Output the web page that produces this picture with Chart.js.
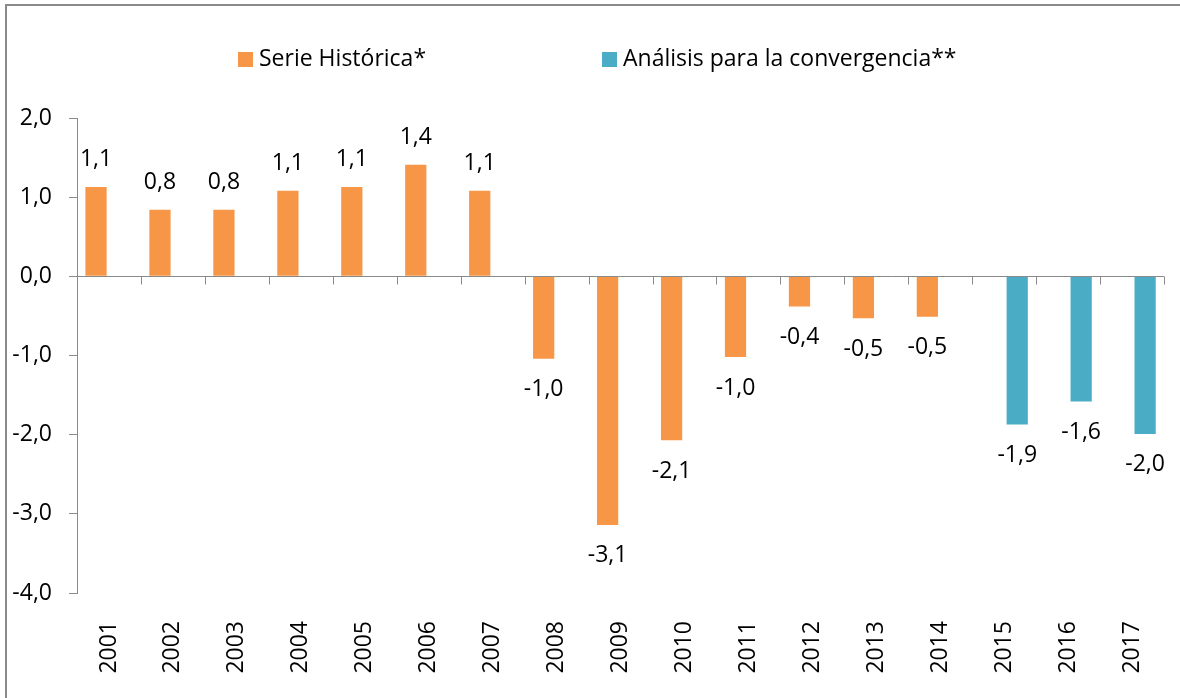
<!DOCTYPE html>
<html><head><meta charset="utf-8">
<script src="https://cdn.jsdelivr.net/npm/chart.js@4.4.0/dist/chart.umd.min.js"></script>
<style>html,body{margin:0;padding:0;background:#fff;overflow:hidden}#wrap{width:1180px;height:698px;position:relative}</style>
</head><body><div id="wrap"><canvas id="c" width="1180" height="698"></canvas></div>
<script>
const years = ['2001','2002','2003','2004','2005','2006','2007','2008','2009','2010','2011','2012','2013','2014','2015','2016','2017'];
const serieHistorica = [1.13,0.84,0.84,1.08,1.13,1.41,1.08,-1.04,-3.14,-2.07,-1.02,-0.38,-0.53,-0.51,null,null,null];
const convergencia = [null,null,null,null,null,null,null,null,null,null,null,null,null,null,-1.87,-1.58,-1.99];
const seriesNames = ['Serie Histórica*','Análisis para la convergencia**'];
const yMin = -4, yMax = 2, yStep = 1;

const FONT = "'Open Sans', sans-serif";
const FS = 23;
const fmt = v => v.toFixed(1).replace('.', ',');

const framePlugin = {
  id: 'frame',
  beforeDraw(chart) {
    const ctx = chart.ctx;
    ctx.save();
    ctx.fillStyle = '#fff';
    ctx.fillRect(0, 0, chart.width, chart.height);
    ctx.fillStyle = '#8a8a8a';
    ctx.fillRect(5, 4, 2, chart.height);
    ctx.fillRect(5, 4, chart.width, 2);
    ctx.restore();
  }
};

const zeroAxisPlugin = {
  id: 'zeroAxis',
  afterDatasetsDraw(chart) {
    const ctx = chart.ctx, x = chart.scales.x, y = chart.scales.y, a = chart.chartArea;
    const y0 = Math.round(y.getPixelForValue(0)) + 0.5;
    ctx.save();
    ctx.strokeStyle = '#8a8a8a';
    ctx.lineWidth = 1;
    ctx.beginPath();
    ctx.moveTo(a.left, y0); ctx.lineTo(a.right, y0);
    const n = x.ticks.length;
    const half = (x.getPixelForValue(1) - x.getPixelForValue(0)) / 2;
    for (let i = 0; i <= n; i++) {
      const px = Math.round(i < n ? x.getPixelForValue(i) - half : x.getPixelForValue(n - 1) + half) + 0.5;
      ctx.moveTo(px, y0); ctx.lineTo(px, y0 + 8);
    }
    ctx.stroke();
    ctx.restore();
  }
};

const labelPlugin = {
  id: 'barLabels',
  afterDatasetsDraw(chart) {
    const ctx = chart.ctx;
    ctx.save();
    ctx.font = FS + "px " + FONT;
    ctx.fillStyle = '#000';
    ctx.textAlign = 'center';
    ctx.textBaseline = 'middle';
    chart.data.datasets.forEach((ds, di) => {
      const meta = chart.getDatasetMeta(di);
      meta.data.forEach((el, i) => {
        const v = ds.data[i];
        if (v === null || v === undefined) return;
        const yy = v >= 0 ? el.y - 27 : el.y + 31;
        ctx.fillText(fmt(v), el.x, yy);
      });
    });
    ctx.restore();
  }
};

const legendPlugin = {
  id: 'customLegend',
  afterDraw(chart) {
    const ctx = chart.ctx;
    const starts = [238, 602];
    ctx.save();
    ctx.font = FS + "px " + FONT;
    ctx.textBaseline = 'middle';
    ctx.textAlign = 'left';
    chart.data.datasets.forEach((ds, i) => {
      ctx.fillStyle = ds.backgroundColor;
      ctx.fillRect(starts[i], 52, 15, 15);
      ctx.fillStyle = '#000';
      ctx.fillText(ds.label, starts[i] + 21, 59);
    });
    ctx.restore();
  }
};

new Chart(document.getElementById('c'), {
  type: 'bar',
  data: {
    labels: years,
    datasets: [
      { label: seriesNames[0], data: serieHistorica, backgroundColor: '#F79646', categoryPercentage: 0.81, barPercentage: 0.82 },
      { label: seriesNames[1], data: convergencia, backgroundColor: '#4BACC6', categoryPercentage: 0.81, barPercentage: 0.82 }
    ]
  },
  options: {
    responsive: false,
    animation: false,
    devicePixelRatio: 1,
    layout: { padding: { top: 118, right: 8, bottom: 0, left: 0 } },
    plugins: { legend: { display: false }, tooltip: { enabled: false } },
    scales: {
      x: {
        grid: { display: false },
        border: { display: false },
        ticks: { minRotation: 90, maxRotation: 90, padding: 20, color: '#000', font: { family: FONT, size: FS } },
        afterFit(s) { s.height = 105; }
      },
      y: {
        min: yMin, max: yMax,
        ticks: { stepSize: yStep, padding: 17, color: '#000', font: { family: FONT, size: FS }, callback: v => fmt(v) },
        grid: { drawOnChartArea: false, drawTicks: true, tickLength: 8, color: '#8a8a8a' },
        border: { display: true, color: '#8a8a8a' },
        afterFit(s) { s.width = 77; }
      }
    }
  },
  plugins: [framePlugin, zeroAxisPlugin, labelPlugin, legendPlugin]
});
</script></body></html>
